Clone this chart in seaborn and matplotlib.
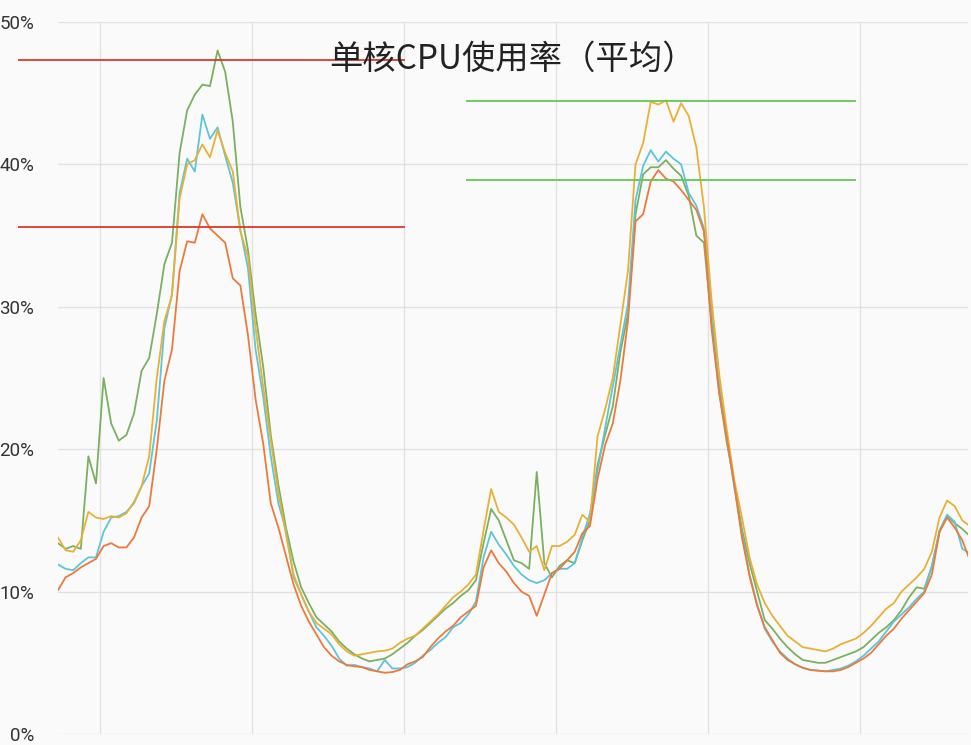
import numpy as np
import pandas as pd
import matplotlib
matplotlib.use('Agg')
import matplotlib.pyplot as plt
import seaborn as sns

# average single-core CPU usage (%), one sample every 0.4 h
green = [13.4, 13.0, 13.2, 13.0, 19.5, 17.6, 25.0, 21.8, 20.6, 21.0,
         22.5, 25.5, 26.4, 29.5, 33.0, 34.5, 40.8, 43.8, 44.9, 45.6,
         45.5, 48.0, 46.5, 43.0, 37.0, 34.0, 29.5, 25.8, 21.0, 17.5,
         14.5, 12.1, 10.3, 9.2, 8.2, 7.7, 7.2, 6.5, 6.0, 5.6,
         5.3, 5.1, 5.2, 5.3, 5.6, 6.0, 6.4, 6.9, 7.3, 7.8,
         8.3, 8.8, 9.2, 9.7, 10.1, 10.8, 13.4, 15.8, 15.0, 13.6,
         12.2, 12.0, 11.6, 18.4, 12.0, 11.0, 11.8, 12.2, 12.0, 13.6,
         15.0, 18.9, 21.0, 23.0, 26.8, 29.5, 36.5, 39.3, 39.8, 39.8,
         40.3, 39.7, 39.2, 37.8, 35.0, 34.5, 29.0, 24.0, 20.5, 17.6,
         14.4, 12.0, 10.0, 8.0, 7.4, 6.7, 6.1, 5.6, 5.2, 5.1,
         5.0, 5.0, 5.2, 5.4, 5.6, 5.8, 6.1, 6.6, 7.1, 7.5,
         8.0, 8.7, 9.6, 10.3, 10.2, 11.8, 14.2, 15.3, 14.8, 14.4,
         13.9]
cyan = [11.9, 11.6, 11.5, 12.0, 12.4, 12.4, 14.2, 15.2, 15.3, 15.6,
        16.2, 17.4, 18.3, 22.0, 28.5, 30.9, 38.0, 40.4, 39.5, 43.5,
        41.8, 42.6, 40.6, 38.7, 35.4, 32.7, 27.0, 23.7, 19.5, 16.2,
        14.3, 11.0, 9.8, 8.6, 7.5, 6.9, 6.2, 5.3, 4.8, 4.85,
        4.7, 4.6, 4.4, 5.2, 4.6, 4.6, 4.7, 5.0, 5.5, 5.9,
        6.4, 6.8, 7.5, 7.8, 8.4, 9.3, 12.4, 14.2, 13.3, 12.6,
        11.8, 11.2, 10.8, 10.6, 10.8, 11.3, 11.6, 11.6, 12.0, 13.8,
        15.5, 18.5, 21.5, 24.4, 27.3, 30.2, 37.5, 39.9, 41.0, 40.2,
        40.9, 40.4, 40.0, 38.0, 37.1, 35.5, 30.0, 24.8, 20.8, 17.3,
        14.1, 11.2, 9.1, 7.4, 6.5, 5.8, 5.3, 4.9, 4.65, 4.5,
        4.45, 4.4, 4.5, 4.6, 4.8, 5.1, 5.5, 6.0, 6.5, 7.2,
        7.9, 8.4, 8.9, 9.5, 10.0, 11.8, 14.3, 15.4, 14.9, 13.0,
        12.7]
yellow = [13.8, 12.9, 12.8, 13.6, 15.6, 15.2, 15.1, 15.3, 15.2, 15.5,
          16.3, 17.4, 19.5, 25.0, 29.0, 30.8, 37.6, 40.0, 40.3, 41.4,
          40.5, 42.4, 40.8, 39.5, 35.3, 33.5, 28.5, 24.4, 20.6, 16.9,
          14.0, 11.2, 9.8, 8.6, 7.8, 7.4, 7.0, 6.3, 5.8, 5.5,
          5.6, 5.7, 5.8, 5.85, 6.0, 6.4, 6.7, 6.9, 7.4, 7.9,
          8.4, 9.0, 9.6, 10.0, 10.5, 11.2, 14.3, 17.2, 15.6, 15.2,
          14.7, 13.8, 12.8, 13.2, 11.5, 13.2, 13.2, 13.5, 14.0, 15.4,
          14.9, 20.9, 22.8, 25.0, 28.7, 32.5, 40.0, 41.5, 44.4, 44.2,
          44.5, 43.0, 44.3, 43.4, 41.2, 37.0, 30.5, 25.3, 21.4, 17.8,
          15.2, 12.4, 10.5, 9.2, 8.3, 7.6, 6.9, 6.5, 6.1, 6.0,
          5.9, 5.8, 6.0, 6.3, 6.5, 6.7, 7.1, 7.6, 8.2, 8.8,
          9.2, 10.0, 10.5, 11.0, 11.6, 12.8, 15.2, 16.4, 16.0, 15.0,
          14.6]
orange = [10.1, 11.0, 11.3, 11.7, 12.0, 12.3, 13.2, 13.4, 13.1, 13.1,
          13.8, 15.2, 16.0, 20.0, 24.8, 27.0, 32.5, 34.6, 34.5, 36.5,
          35.5, 35.0, 34.5, 32.0, 31.5, 28.0, 23.5, 20.4, 16.2, 14.5,
          12.5, 10.5, 9.0, 7.9, 7.0, 6.1, 5.5, 5.1, 4.85, 4.75,
          4.7, 4.5, 4.4, 4.3, 4.35, 4.5, 4.9, 5.1, 5.4, 6.1,
          6.7, 7.2, 7.6, 8.2, 8.6, 9.0, 11.7, 12.9, 12.0, 11.4,
          10.6, 10.0, 9.7, 8.3, 9.8, 11.3, 11.6, 12.2, 12.8, 14.1,
          14.6, 17.9, 20.3, 21.8, 24.8, 29.0, 36.0, 36.5, 38.8, 39.6,
          39.0, 38.8, 38.2, 37.5, 36.8, 35.3, 28.5, 24.0, 20.8, 17.5,
          13.8, 11.1, 9.0, 7.5, 6.6, 5.7, 5.2, 4.9, 4.65, 4.5,
          4.45, 4.4, 4.4, 4.5, 4.7, 5.0, 5.3, 5.7, 6.3, 6.9,
          7.4, 8.1, 8.7, 9.3, 9.9, 11.2, 14.2, 15.2, 14.5, 13.6,
          12.2]

series_names = ['s1', 's2', 's3', 's4']
series_colors = ['#7bb062', '#5ec4dc', '#e8b136', '#ec7a3c']

# hand-drawn reference levels (%)
red_levels = [47.3, 35.6]
green_levels = [44.45, 38.9]

hours = np.arange(len(green)) * 0.4
df = pd.DataFrame({
    'hour': np.tile(hours, 4),
    'cpu': green + cyan + yellow + orange,
    'series': np.repeat(series_names, len(green)),
})

sns.set_style('whitegrid', {
    'axes.facecolor': '#fafafa',
    'figure.facecolor': '#fafafa',
    'grid.color': '#e2e2e2',
    'axes.edgecolor': '#fafafa',
})
plt.rcParams['font.family'] = ['Roboto', 'Noto Sans CJK SC', 'DejaVu Sans']

fig = plt.figure(figsize=(9.71, 7.45), dpi=100)
ax = fig.add_axes([58 / 971, 1 - 734 / 745, 910 / 971, 712 / 745])

sns.lineplot(data=df, x='hour', y='cpu', hue='series', palette=series_colors,
             linewidth=1.3, legend=False, ax=ax, estimator=None)

ax.hlines(red_levels, -2.1, 18.26, colors='#d93a2b', linewidth=1.3,
          clip_on=False, zorder=5)
ax.hlines(green_levels, 21.47, 42.0, colors='#62c953', linewidth=1.3,
          clip_on=False, zorder=5)

ax.set_xlim(0, 47.9)
ax.set_ylim(0, 50)
ax.set_xticks([2.2, 10.2, 18.2, 26.2, 34.2, 42.2])
ax.set_xticklabels([])
ax.set_yticks([0, 10, 20, 30, 40, 50])
ax.set_yticklabels([f'{v}%' for v in [0, 10, 20, 30, 40, 50]])
ax.tick_params(axis='both', length=0)
ax.tick_params(axis='y', pad=17, labelsize=13.5, labelcolor='#333333')
ax.grid(True, linewidth=1.0)
ax.set_xlabel('')
ax.set_ylabel('')
for sp in ax.spines.values():
    sp.set_visible(False)

ax.text(0.5, 0.947, '单核CPU使用率（平均）', transform=ax.transAxes,
        ha='center', va='center', fontsize=24, color='#222222',
        family=['Noto Sans CJK SC', 'DejaVu Sans'], zorder=6)

fig.savefig('out.png', dpi=100, facecolor=fig.get_facecolor())
